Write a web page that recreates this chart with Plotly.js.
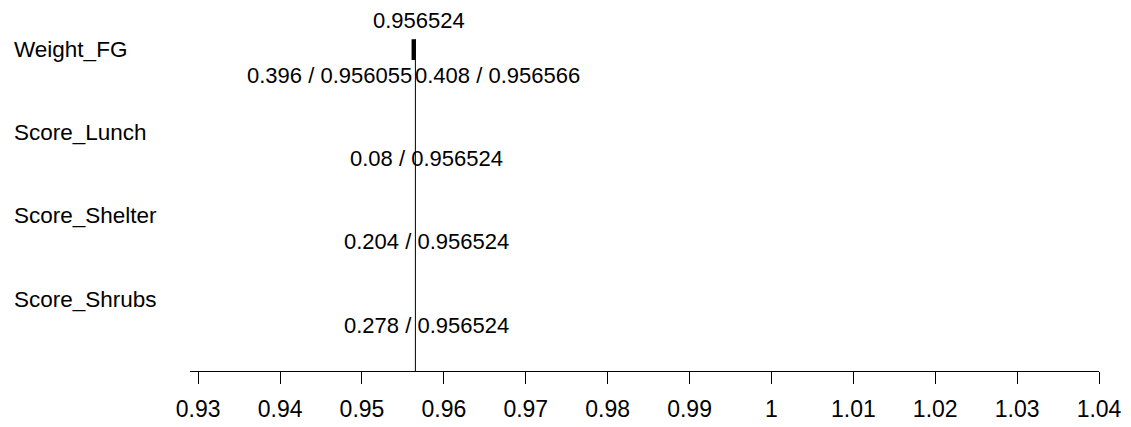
<!DOCTYPE html>
<html>
<head>
<meta charset="utf-8">
<script src="https://cdn.plot.ly/plotly-3.0.1.min.js"></script>
<style>html,body{margin:0;padding:0;background:#fff;}#chart{width:1131px;height:427px;}</style>
</head>
<body>
<div id="chart"></div>
<script>
// ---- data ----
const rowNames = ['Weight_FG', 'Score_Lunch', 'Score_Shelter', 'Score_Shrubs'];
const lowInputs = [0.396, 0.08, 0.204, 0.278];
const lowOutputs = [0.956055, 0.956524, 0.956524, 0.956524];
const highInputs = [0.408, null, null, null];
const highOutputs = [0.956566, 0.956524, 0.956524, 0.956524];
const baseOutput = 0.956524;
const tickVals = [0.93, 0.94, 0.95, 0.96, 0.97, 0.98, 0.99, 1.00, 1.01, 1.02, 1.03, 1.04];
const tickText = ['0.93', '0.94', '0.95', '0.96', '0.97', '0.98', '0.99', '1', '1.01', '1.02', '1.03', '1.04'];

// ---- layout helpers ----
const FONT = 'Liberation Sans, Arial, sans-serif';
const rowIdx = rowNames.map((_, i) => i);
const yBottom = 3.866, yTop = -0.597;
const barW = 0.25;

const bars = {
  type: 'bar', orientation: 'h',
  y: rowIdx,
  base: rowIdx.map(i => Math.min(lowOutputs[i], highOutputs[i])),
  x: rowIdx.map(i => Math.abs(highOutputs[i] - lowOutputs[i])),
  width: barW,
  marker: {color: '#000', line: {width: 0}},
  hoverinfo: 'skip', showlegend: false
};

const annotations = [];
rowNames.forEach((name, i) => {
  annotations.push({
    xref: 'paper', yref: 'y', x: -178 / 909, y: i, xanchor: 'left', yanchor: 'middle',
    text: name, showarrow: false, font: {family: FONT, size: 22.5, color: '#000'}
  });
  if (highInputs[i] !== null) {
    annotations.push({
      xref: 'x', yref: 'y', x: lowOutputs[i], y: i, xanchor: 'right', yanchor: 'middle',
      yshift: -26, xshift: 2,
      text: lowInputs[i] + ' / ' + lowOutputs[i], showarrow: false,
      font: {family: FONT, size: 22, color: '#000'}
    });
    annotations.push({
      xref: 'x', yref: 'y', x: highOutputs[i], y: i, xanchor: 'left', yanchor: 'middle',
      yshift: -26, xshift: -3,
      text: highInputs[i] + ' / ' + highOutputs[i], showarrow: false,
      font: {family: FONT, size: 22, color: '#000'}
    });
  } else {
    annotations.push({
      xref: 'x', yref: 'y', x: lowOutputs[i], y: i, xanchor: 'center', yanchor: 'middle',
      yshift: -26, xshift: 11,
      text: lowInputs[i] + ' / ' + lowOutputs[i], showarrow: false,
      font: {family: FONT, size: 22, color: '#000'}
    });
  }
});
annotations.push({
  xref: 'x', yref: 'y', x: baseOutput, y: 0, xanchor: 'center', yanchor: 'middle',
  yshift: 29, xshift: 4,
  text: String(baseOutput), showarrow: false,
  font: {family: FONT, size: 22, color: '#000'}
});

const layout = {
  width: 1131, height: 427,
  margin: {l: 190, r: 32, t: 0, b: 56},
  paper_bgcolor: '#fff', plot_bgcolor: '#fff',
  showlegend: false,
  xaxis: {
    range: [0.929, 1.04], showgrid: false, zeroline: false,
    showline: true, linecolor: '#000', linewidth: 1,
    ticks: 'outside', ticklen: 12, tickcolor: '#000', tickwidth: 1,
    tickvals: tickVals, ticktext: tickText,
    ticklabelstandoff: 5,
    tickfont: {family: FONT, size: 23, color: '#000'}
  },
  yaxis: {
    range: [yBottom, yTop], showgrid: false, zeroline: false, showline: false,
    showticklabels: false, ticks: ''
  },
  shapes: [{
    type: 'line', xref: 'x', yref: 'y',
    x0: baseOutput, x1: baseOutput, y0: -barW / 2, y1: yBottom,
    line: {color: '#000', width: 1}
  }],
  annotations: annotations
};

Plotly.newPlot('chart', [bars], layout, {staticPlot: true, displayModeBar: false});
</script>
</body>
</html>
